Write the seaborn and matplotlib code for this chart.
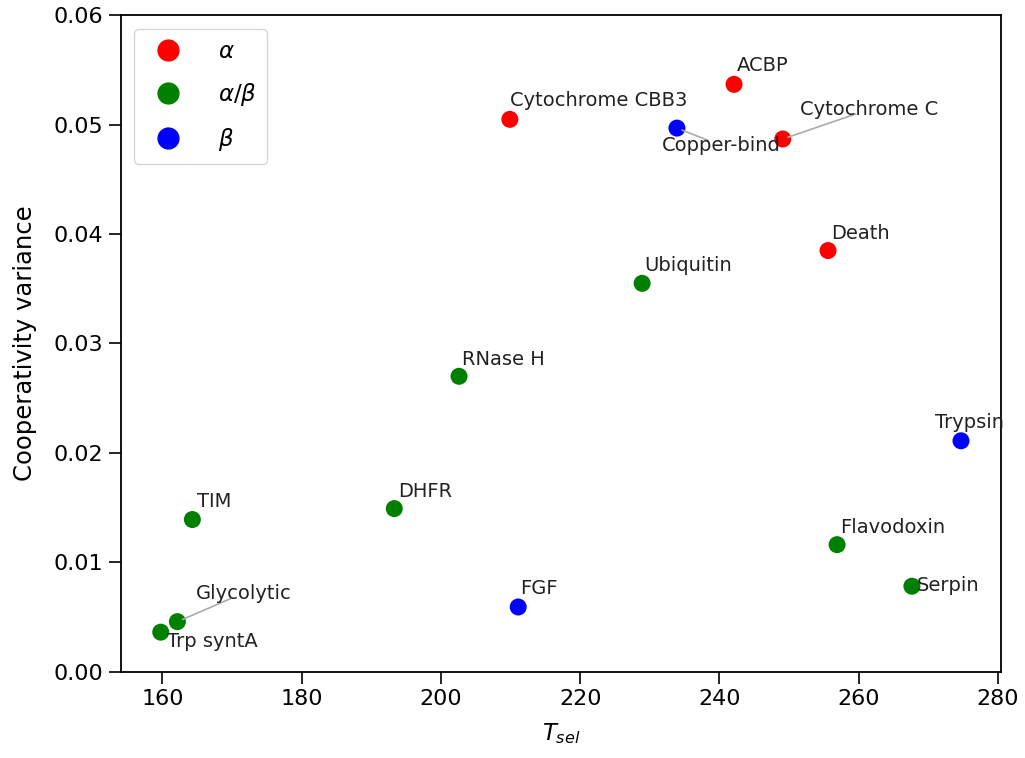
import matplotlib
matplotlib.use("Agg")
import matplotlib.pyplot as plt
import seaborn as sns
import pandas as pd

# ---- data ----
names = ["Cytochrome CBB3", "ACBP", "Copper-bind", "Cytochrome C", "Death",
         "Ubiquitin", "RNase H", "DHFR", "TIM", "Glycolytic", "Trp syntA",
         "Flavodoxin", "Serpin", "FGF", "Trypsin"]
t_sel = [209.9, 242.1, 233.9, 249.1, 255.6,
         228.9, 202.6, 193.3, 164.3, 162.15, 159.76,
         256.9, 267.65, 211.1, 274.7]
coop_var = [0.0505, 0.0537, 0.0497, 0.0487, 0.0385,
            0.0355, 0.0270, 0.0149, 0.0139, 0.00456, 0.0036,
            0.0116, 0.0078, 0.0059, 0.0211]
fold_class = [r"$\alpha$", r"$\alpha$", r"$\beta$", r"$\alpha$", r"$\alpha$",
              r"$\alpha/\beta$", r"$\alpha/\beta$", r"$\alpha/\beta$", r"$\alpha/\beta$",
              r"$\alpha/\beta$", r"$\alpha/\beta$", r"$\alpha/\beta$", r"$\alpha/\beta$",
              r"$\beta$", r"$\beta$"]
class_order = [r"$\alpha$", r"$\alpha/\beta$", r"$\beta$"]
class_colors = ["red", "green", "blue"]

# label offsets (pixels) and whether a connector line is drawn
label_offsets = [(0, 13), (3, 13), (-15, -23), (17, 24), (3, 12),
                 (2, 12), (3, 11), (4, 12), (5, 13), (18, 23), (6, -15),
                 (3, 12), (5, -5), (2, 13), (-26, 13)]
label_lines = [False, False, True, True, False,
               False, False, False, False, True, False,
               False, False, False, False]

df = pd.DataFrame({"name": names, "T_sel": t_sel, "var": coop_var, "cls": fold_class})

fig = plt.figure(figsize=(10.25, 7.58), dpi=100)
ax = fig.add_axes([0.1178, 0.1141, 0.8588, 0.8655])

sns.scatterplot(data=df, x="T_sel", y="var", hue="cls", hue_order=class_order,
                palette=dict(zip(class_order, class_colors)), s=150, linewidth=0,
                ax=ax, zorder=3)

for nm, xv, yv, off, ln in zip(names, t_sel, coop_var, label_offsets, label_lines):
    kw = {}
    if ln:
        kw["arrowprops"] = dict(arrowstyle="-", color="#aaaaaa", lw=1.2,
                                patchA=None, shrinkA=10, shrinkB=4)
    ax.annotate(nm, xy=(xv, yv), xytext=off, textcoords="offset pixels",
                ha="left", va="baseline", fontsize=14, color="#222222", zorder=4, **kw)

ax.set_ylim(0, 0.06)
ax.set_xlabel(r"$T_{sel}$", fontsize=16.5, labelpad=9)
ax.set_ylabel("Cooperativity variance", fontsize=17.5, labelpad=12)
ax.tick_params(axis="both", labelsize=16, length=8.5, width=1.2, pad=4)
for sp in ax.spines.values():
    sp.set_linewidth(1.3)
    sp.set_visible(True)

handles, labels = ax.get_legend_handles_labels()
for h in handles:
    h.set_markersize(16)
ax.legend(handles, labels, loc="upper left", fontsize=16.5, frameon=True,
          borderpad=0.45, labelspacing=0.8, handletextpad=1.2, borderaxespad=0.6)

fig.savefig("out.png", dpi=100)
